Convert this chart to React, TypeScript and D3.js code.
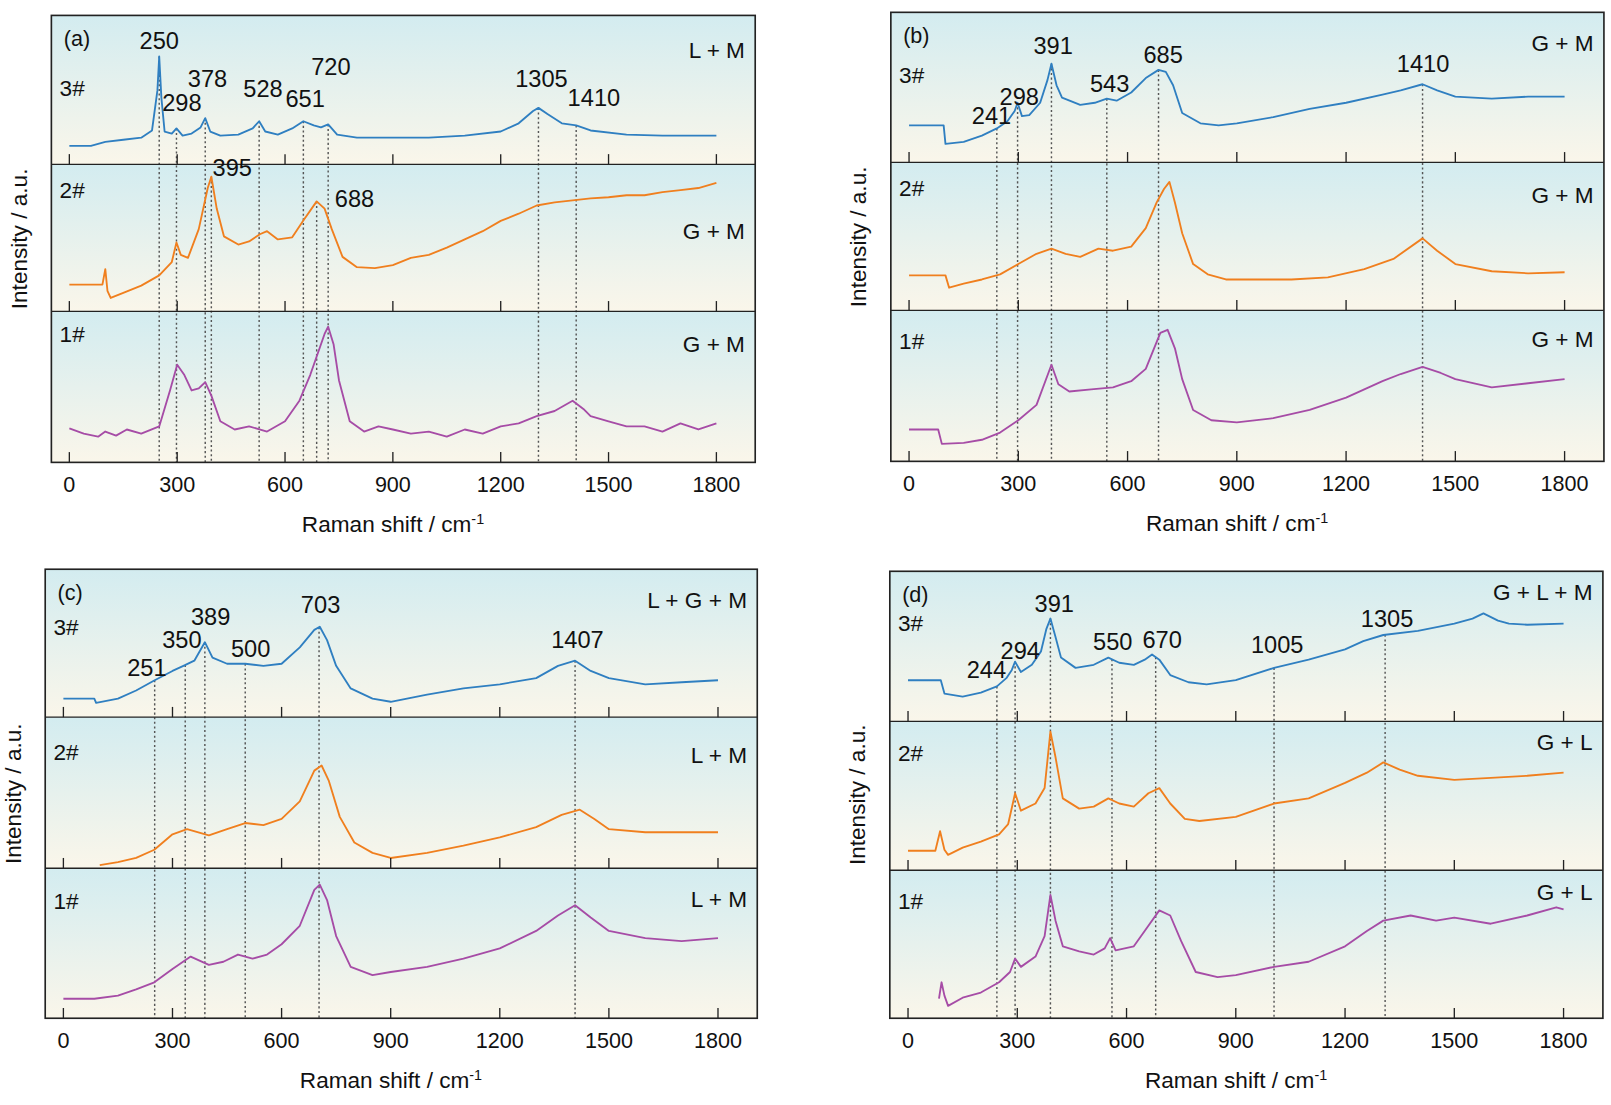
import React from "react";
import * as d3 from "d3";

type P = [number, number];
const xTicks = [0, 300, 600, 900, 1200, 1500, 1800];

// heights above band bottom (a.u., band = 145 units)
const a3: P[] = [[0,18],[60,18],[100,22],[150,24],[200,26],[230,33],[245,72],[250,105],[256,65],[265,32],[285,30],[298,35],[315,28],[340,30],[365,36],[378,45],[392,32],[420,28],[470,29],[510,35],[528,42],[545,32],[580,29],[620,35],[651,42],[680,38],[700,36],[720,39],[745,29],[800,26],[900,26],[1000,26],[1100,28],[1200,32],[1250,40],[1290,52],[1305,55],[1330,49],[1370,40],[1410,38],[1450,33],[1550,29],[1650,28],[1800,28]];
const a2: P[] = [[0,26],[85,26],[92,26],[100,41],[106,20],[115,13],[150,18],[200,25],[250,35],[285,48],[298,67],[310,55],[330,52],[360,80],[385,120],[395,131],[410,100],[430,73],[470,65],[500,68],[530,75],[550,78],[580,70],[620,72],[650,88],[688,107],[710,100],[730,80],[760,53],[800,43],[850,42],[900,45],[950,52],[1000,55],[1050,62],[1100,70],[1150,78],[1200,88],[1250,95],[1300,103],[1350,106],[1400,108],[1450,110],[1500,111],[1550,113],[1600,113],[1650,116],[1700,118],[1750,120],[1800,125]];
const a1: P[] = [[0,33],[40,28],[80,25],[100,30],[130,26],[160,32],[200,28],[250,35],[280,70],[300,95],[320,85],[340,70],[360,72],[378,78],[395,65],[420,40],[460,32],[500,35],[550,30],[600,40],[640,60],[670,85],[690,105],[710,125],[720,132],[735,115],[750,80],[780,40],[820,30],[860,35],[900,32],[950,28],[1000,30],[1050,25],[1100,32],[1150,28],[1200,35],[1250,38],[1300,45],[1350,50],[1400,60],[1430,52],[1450,45],[1500,40],[1550,35],[1600,35],[1650,30],[1700,38],[1750,32],[1800,38]];
const b3: P[] = [[0,36],[95,36],[100,18],[150,20],[200,26],[241,33],[270,40],[290,50],[298,58],[310,45],[330,46],[360,58],[380,80],[391,96],[405,75],[420,63],[470,56],[510,58],[543,62],[570,60],[610,68],[650,82],[685,90],[705,88],[725,75],[750,48],[800,38],[850,36],[900,38],[1000,44],[1100,52],[1200,58],[1300,66],[1350,70],[1410,76],[1450,70],[1500,64],[1600,62],[1700,64],[1800,64]];
const b2: P[] = [[0,34],[100,34],[110,22],[150,26],[200,30],[250,35],[300,45],[350,55],[391,60],[430,55],[470,52],[520,60],[560,58],[610,62],[650,80],[680,105],[700,118],[715,125],[730,105],[750,75],[780,45],[820,35],[870,30],[950,30],[1050,30],[1150,32],[1250,40],[1330,50],[1410,70],[1450,58],[1500,45],[1600,38],[1700,36],[1800,37]];
const b1: P[] = [[0,31],[80,31],[90,17],[150,18],[200,21],[250,28],[300,40],[350,55],[391,94],[410,75],[440,68],[500,70],[560,72],[610,78],[650,90],[690,125],[710,128],[730,110],[750,80],[780,50],[830,40],[900,38],[1000,42],[1100,50],[1200,62],[1300,78],[1350,85],[1410,92],[1460,86],[1500,80],[1600,72],[1700,76],[1800,80]];
const c3: P[] = [[0,18],[85,18],[90,14],[150,18],[200,26],[251,36],[300,45],[330,50],[360,55],[389,73],[410,58],[450,52],[500,52],[550,50],[600,52],[650,68],[690,85],[705,88],[725,75],[750,50],[790,28],[850,18],[900,15],[1000,22],[1100,28],[1200,32],[1300,38],[1360,50],[1407,55],[1450,45],[1500,38],[1600,32],[1700,34],[1800,36]];
const c2: P[] = [[100,3],[150,6],[200,10],[250,18],[300,33],[340,38],[400,32],[450,38],[500,44],[550,42],[600,48],[650,65],[690,95],[710,100],[730,85],[760,50],[800,25],[850,15],[900,10],[1000,15],[1100,22],[1200,30],[1300,40],[1370,52],[1420,57],[1460,48],[1500,38],[1600,35],[1700,35],[1800,35]];
const c1: P[] = [[0,19],[85,19],[150,22],[200,28],[250,35],[300,48],[350,60],[400,52],[440,55],[480,62],[520,58],[560,62],[600,72],[650,90],[690,125],[705,130],[725,115],[750,80],[790,50],[850,42],[900,45],[1000,50],[1100,58],[1200,68],[1300,85],[1360,100],[1407,110],[1450,98],[1500,85],[1600,78],[1700,75],[1800,78]];
const d3s: P[] = [[0,40],[90,40],[100,27],[150,24],[200,28],[244,34],[270,42],[285,50],[294,58],[310,48],[340,55],[365,68],[380,90],[391,100],[405,82],[420,62],[460,52],[510,55],[550,62],[580,57],[620,55],[650,60],[670,65],[690,60],[720,45],[770,38],[820,36],[900,40],[1005,52],[1100,60],[1200,70],[1250,78],[1305,84],[1400,88],[1500,95],[1550,100],[1580,105],[1620,98],[1650,95],[1700,94],[1800,95]];
const d2: P[] = [[0,19],[75,19],[88,38],[100,20],[110,15],[150,22],[200,28],[250,35],[275,45],[294,75],[310,58],[350,65],[375,80],[391,135],[405,110],[425,70],[470,60],[510,62],[550,70],[580,65],[620,62],[660,75],[690,80],[720,65],[760,50],[800,48],[900,52],[1005,65],[1100,70],[1200,85],[1260,95],[1305,105],[1350,98],[1400,92],[1500,88],[1600,90],[1700,92],[1800,95]];
const d1: P[] = [[85,19],[92,35],[100,22],[110,12],[150,20],[200,25],[250,35],[280,45],[294,58],[310,50],[350,60],[375,80],[391,120],[405,95],[425,70],[470,65],[510,62],[540,68],[555,78],[570,66],[620,70],[660,90],[690,105],[720,100],[750,75],[790,45],[850,40],[900,42],[1005,50],[1100,55],[1200,70],[1260,85],[1305,95],[1380,100],[1450,95],[1500,98],[1600,92],[1700,100],[1780,108],[1800,106]];

const COLORS = ["#2f7fc1", "#f07f1e", "#a64ca6"];
const sampleNames = ["3#", "2#", "1#"];

type Peak = { x: number; band: number; label: string; lx: number; ly: number };
type Panel = {
  tag: string; left: number; right: number; bands: number[];
  curves: P[][]; phases: string[]; phaseY: number[]; sampleY: number[];
  peaks: Peak[]; lines: { x: number; band: number }[];
};

const panels: Panel[] = [
  { tag: "(a)", left: 50, right: 735, bands: [15, 160, 303, 450], curves: [a3, a2, a1],
    phases: ["L + M", "G + M", "G + M"], phaseY: [48, 225, 335], sampleY: [85, 185, 325],
    peaks: [
      { x: 250, band: 0, label: "250", lx: 155, ly: 40 }, { x: 298, band: 0, label: "298", lx: 177, ly: 100 },
      { x: 378, band: 0, label: "378", lx: 202, ly: 77 }, { x: 528, band: 0, label: "528", lx: 256, ly: 86 },
      { x: 651, band: 0, label: "651", lx: 297, ly: 96 }, { x: 720, band: 0, label: "720", lx: 322, ly: 65 },
      { x: 1305, band: 0, label: "1305", lx: 527, ly: 77 }, { x: 1410, band: 0, label: "1410", lx: 578, ly: 95 },
      { x: 395, band: 1, label: "395", lx: 226, ly: 163 }, { x: 688, band: 1, label: "688", lx: 345, ly: 193 }],
    lines: [{ x: 250, band: 0 }, { x: 298, band: 0 }, { x: 378, band: 0 }, { x: 528, band: 0 }, { x: 651, band: 0 }, { x: 720, band: 0 }, { x: 1305, band: 0 }, { x: 1410, band: 0 }, { x: 395, band: 1 }, { x: 688, band: 1 }] },
  { tag: "(b)", left: 867, right: 1561, bands: [12, 158, 302, 449], curves: [b3, b2, b1],
    phases: ["G + M", "G + M", "G + M"], phaseY: [42, 190, 330], sampleY: [73, 183, 332],
    peaks: [
      { x: 241, band: 0, label: "241", lx: 965, ly: 113 }, { x: 298, band: 0, label: "298", lx: 992, ly: 94 },
      { x: 391, band: 0, label: "391", lx: 1025, ly: 45 }, { x: 543, band: 0, label: "543", lx: 1080, ly: 82 },
      { x: 685, band: 0, label: "685", lx: 1132, ly: 53 }, { x: 1410, band: 0, label: "1410", lx: 1385, ly: 62 }],
    lines: [{ x: 241, band: 0 }, { x: 298, band: 0 }, { x: 391, band: 0 }, { x: 543, band: 0 }, { x: 685, band: 0 }, { x: 1410, band: 0 }] },
  { tag: "(c)", left: 44, right: 737, bands: [554, 698, 845, 991], curves: [c3, c2, c1],
    phases: ["L + G + M", "L + M", "L + M"], phaseY: [584, 735, 875], sampleY: [610, 732, 877],
    peaks: [
      { x: 251, band: 0, label: "251", lx: 143, ly: 650 }, { x: 335, band: 0, label: "350", lx: 177, ly: 623 },
      { x: 389, band: 0, label: "389", lx: 205, ly: 600 }, { x: 500, band: 0, label: "500", lx: 244, ly: 631 },
      { x: 703, band: 0, label: "703", lx: 312, ly: 589 }, { x: 1407, band: 0, label: "1407", lx: 562, ly: 623 }],
    lines: [{ x: 251, band: 0 }, { x: 335, band: 0 }, { x: 389, band: 0 }, { x: 500, band: 0 }, { x: 703, band: 0 }, { x: 1407, band: 0 }] },
  { tag: "(d)", left: 866, right: 1560, bands: [556, 702, 847, 991], curves: [d3s, d2, d1],
    phases: ["G + L + M", "G + L", "G + L"], phaseY: [576, 722, 868], sampleY: [606, 733, 877],
    peaks: [
      { x: 244, band: 0, label: "244", lx: 960, ly: 652 }, { x: 294, band: 0, label: "294", lx: 993, ly: 633 },
      { x: 391, band: 0, label: "391", lx: 1026, ly: 588 }, { x: 550, band: 0, label: "550", lx: 1083, ly: 625 },
      { x: 670, band: 0, label: "670", lx: 1131, ly: 623 }, { x: 1005, band: 0, label: "1005", lx: 1243, ly: 628 },
      { x: 1305, band: 0, label: "1305", lx: 1350, ly: 602 }],
    lines: [{ x: 244, band: 0 }, { x: 294, band: 0 }, { x: 391, band: 0 }, { x: 560, band: 0 }, { x: 680, band: 0 }, { x: 1005, band: 0 }, { x: 1310, band: 0 }] },
];

function interp(data: P[], x: number) {
  for (let i = 1; i < data.length; i++) {
    if (data[i][0] >= x) {
      const [x0, y0] = data[i - 1], [x1, y1] = data[i];
      return y0 + ((y1 - y0) * (x - x0)) / (x1 - x0 || 1);
    }
  }
  return data[data.length - 1][1];
}

const FONT = "Liberation Sans, Arial, sans-serif";

function PanelView({ p, idx }: { p: Panel; idx: number }) {
  const x = d3.scaleLinear().domain([-50, 1908]).range([p.left, p.right]);
  const yFor = (b: number) => d3.scaleLinear().domain([0, 145]).range([p.bands[b + 1], p.bands[b + 1] - 145]);
  const top = p.bands[0], bottom = p.bands[3];
  return (
    <g>
      {[0, 1, 2].map((b) => (
        <rect key={b} x={p.left} y={p.bands[b]} width={p.right - p.left} height={p.bands[b + 1] - p.bands[b]} fill={`url(#bg${idx})`} />
      ))}
      {p.lines.map((l, i) => {
        const ys = yFor(l.band)(interp(p.curves[l.band], l.x));
        return <line key={i} x1={x(l.x)} x2={x(l.x)} y1={ys} y2={bottom} stroke="#555" strokeWidth={1.4} strokeDasharray="2,2.5" />;
      })}
      {p.curves.map((c, b) => {
        const y = yFor(b);
        const line = d3.line<P>().x((d) => x(d[0])).y((d) => y(d[1]));
        return <path key={b} d={line(c) || ""} fill="none" stroke={COLORS[b]} strokeWidth={1.8} strokeLinejoin="round" />;
      })}
      {[1, 2, 3].map((b) =>
        xTicks.map((t) => <line key={b + "-" + t} x1={x(t)} x2={x(t)} y1={p.bands[b]} y2={p.bands[b] - 10} stroke="#222" strokeWidth={1.3} />)
      )}
      {[1, 2].map((b) => <line key={b} x1={p.left} x2={p.right} y1={p.bands[b]} y2={p.bands[b]} stroke="#222" strokeWidth={1.3} />)}
      <rect x={p.left} y={top} width={p.right - p.left} height={bottom - top} fill="none" stroke="#222" strokeWidth={1.6} />
      {xTicks.map((t) => (
        <text key={t} x={x(t)} y={bottom + 29} textAnchor="middle" fontSize={21} fontFamily={FONT} fill="#111">{t}</text>
      ))}
      <text x={(p.left + p.right) / 2 - 10} y={bottom + 68} textAnchor="middle" fontSize={22} fontFamily={FONT} fill="#111">
        Raman shift / cm<tspan dy={-8} fontSize={14}>-1</tspan>
      </text>
      <text transform={`translate(${p.left - 24},${(top + bottom) / 2}) rotate(-90)`} textAnchor="middle" fontSize={22} fontFamily={FONT} fill="#111">Intensity / a.u.</text>
      <text x={p.left + 12} y={top + 30} fontSize={21} fontFamily={FONT} fill="#111">{p.tag}</text>
      {sampleNames.map((s, i) => (
        <text key={s} x={p.left + 8} y={p.sampleY[i] + 8} fontSize={22} fontFamily={FONT} fill="#111">{s}</text>
      ))}
      {p.phases.map((s, i) => (
        <text key={i} x={p.right - 10} y={p.phaseY[i] + 8} textAnchor="end" fontSize={22} fontFamily={FONT} fill="#111">{s}</text>
      ))}
      {p.peaks.map((pk, i) => (
        <text key={i} x={pk.lx} y={pk.ly + 8} textAnchor="middle" fontSize={23} fontFamily={FONT} fill="#111">{pk.label}</text>
      ))}
    </g>
  );
}

export default function App() {
  return (
    <svg width={1611} height={1105} style={{ display: "block", position: "absolute", left: 0, top: 0 }}>
      <defs>
        {panels.map((_, i) => (
          <linearGradient key={i} id={`bg${i}`} x1="0" y1="0" x2="0" y2="1">
            <stop offset="0%" stopColor="#d3ecf0" />
            <stop offset="100%" stopColor="#faf6ea" />
          </linearGradient>
        ))}
      </defs>
      <g transform="scale(1.0275)">
        {panels.map((p, i) => <PanelView key={i} p={p} idx={i} />)}
      </g>
    </svg>
  );
}
